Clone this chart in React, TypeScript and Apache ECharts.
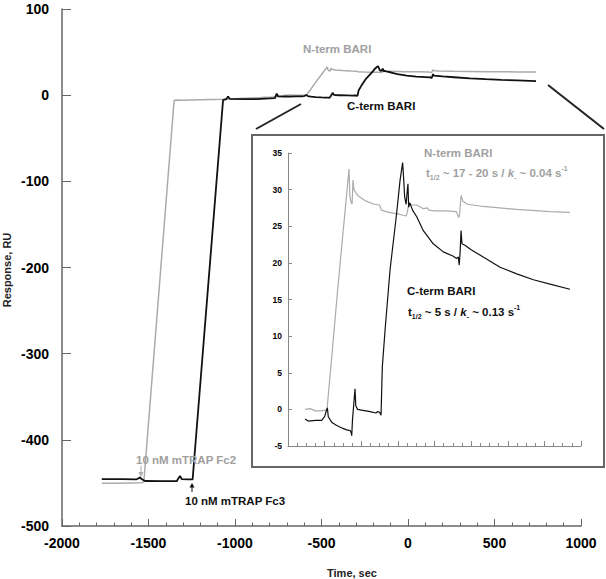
import React, { useEffect, useRef } from "react";
import * as echarts from "echarts";

// N-term BARI (gray trace): time (s) and response (RU)
const nTermTime = [
  -1770, -1700, -1600, -1540, -1527, -1352, -1340, -1300, -1200, -1069, -950, -850, -780,
  -707, -680, -650, -620, -595, -587, -560, -530, -500, -467, -462, -455, -450, -445, -440,
  -420, -380, -330, -300, -290, -250, -200, -170, -155, -148, -140, -130, -97, -60, -40, -30,
  0, 60, 120, 132, 137, 145, 155, 180, 266, 449, 631, 740,
];
const nTermResp = [
  -450.5, -450.3, -450, -449.8, -449, -6.2, -5.6, -5.8, -5.2, -4.6, -3.5, -2.8, -2.0,
  0.0, 0.1, -0.2, -0.2, -0.1, 0.0, 7.5, 16, 24, 32.8, 29.0, 28.3, 28.0, 31.3, 30.0,
  29.2, 28.5, 28.0, 27.9, 27.2, 26.9, 26.7, 26.5, 26.4, 27.0, 28.2, 27.9, 27.9, 27.4, 27.5, 27.2,
  27.1, 27.1, 27.0, 26.2, 26.6, 29.2, 28.4, 28.0, 27.7, 27.3, 27.0, 26.9,
];

// C-term BARI (black trace)
const cTermTime = [
  -1770, -1650, -1569, -1555, -1549, -1540, -1520, -1420, -1337, -1325, -1318, -1308, -1270, -1245,
  -1069, -1050, -1040, -1030, -950, -875, -800, -769, -759, -750, -720,
  -707, -690, -650, -616, -600, -592, -585, -580, -560, -534, -500, -480, -460, -455, -452, -448,
  -440, -434, -430, -420, -398, -352, -320, -310, -300, -292, -285, -270, -243, -207, -188, -174,
  -168, -163, -155, -150, -145, -141, -135, -120, -97, -61, -7, 48, 103, 120, 130, 135, 140, 145,
  150, 166, 200, 266, 358, 449, 540, 631, 740,
];
const cTermResp = [
  -445.5, -445.7, -445.8, -444.5, -443.5, -445.5, -447.8, -448, -448, -444, -442, -445.5, -445.8, -446,
  -5.8, -4.5, -1.5, -4.2, -4.5, -4.6, -3.8, -3.4, 1.8, -1.5, -1.6,
  -1.3, -1.6, -1.5, -1.5, -1.0, -0.3, 0.2, -1.0, -1.8, -2.2, -2.6, -2.8, -2.9, -3.2, -3.6, -1.5,
  1.0, 2.8, 0.5, 0.0, -0.1, -0.3, -0.5, -0.3, -0.4, -0.8, 5.8, 10.8, 19.0, 26.7, 31.3, 33.7,
  31.3, 29.0, 28.0, 29.5, 30.8, 27.6, 28.2, 27.2, 26.3, 24.4, 22.6, 21.5, 20.9, 20.6, 20.8, 19.7, 21.5, 24.4,
  22.6, 22.4, 21.8, 20.8, 19.4, 18.5, 17.7, 17.1, 16.4,
];

const insetStart = -710;

const FONT = "'Liberation Sans', Arial, Helvetica, sans-serif";
const GRAY = "#ababab";
const TEXT_GRAY = "#a0a0a0";
const BLACK = "#111";

function richFor(color: string) {
  return {
    n: { fontSize: 11.5, fontWeight: "bold", fontFamily: FONT, fill: color, lineHeight: 16 },
    k: { fontSize: 11.5, fontWeight: "bold", fontStyle: "italic", fontFamily: FONT, fill: color, lineHeight: 16 },
    sub: { fontSize: 7, fontWeight: "bold", fontFamily: FONT, fill: color, lineHeight: 8, verticalAlign: "bottom" },
    sup: { fontSize: 7, fontWeight: "bold", fontFamily: FONT, fill: color, lineHeight: 8, verticalAlign: "top" },
  };
}

function label(text: string, x: number, y: number, color: string, size = 11.5) {
  return {
    type: "text",
    x,
    y,
    z: 10,
    style: {
      text,
      fill: color,
      font: `bold ${size}px ${FONT}`,
      textAlign: "left",
      textVerticalAlign: "middle",
    },
  };
}

export default function App() {
  const ref = useRef<HTMLDivElement>(null);

  useEffect(() => {
    if (!ref.current) return;
    const chart = echarts.init(ref.current, undefined, { renderer: "svg" });

    const nData = nTermTime.map((t, i) => [t, nTermResp[i]]);
    const cData = cTermTime.map((t, i) => [t, cTermResp[i]]);
    const nInset = nData.filter((p) => p[0] >= insetStart);
    const cInset = cData.filter((p) => p[0] >= insetStart);

    const axisColor = "#666";
    const fmt = (v: number) => String(v);

    chart.setOption({
      animation: false,
      backgroundColor: "#fff",
      grid: [
        { left: 62, top: 9, width: 519, height: 517 },
        { left: 288, top: 153, width: 293, height: 293 },
      ],
      xAxis: [
        {
          type: "value",
          gridIndex: 0,
          min: -2000,
          max: 1000,
          interval: 500,
          axisLine: { show: true, onZero: false, lineStyle: { color: axisColor, width: 1.5 } },
          axisTick: { show: true, inside: true, length: 7, lineStyle: { color: axisColor, width: 1 } },
          minorTick: { show: true, splitNumber: 5, length: 3.5, lineStyle: { color: axisColor, width: 1 } },
          splitLine: { show: false },
          axisLabel: {
            formatter: fmt,
            fontSize: 14,
            fontWeight: "bold",
            fontFamily: FONT,
            color: "#000",
            margin: 10,
          },
        },
        {
          type: "value",
          gridIndex: 1,
          min: -800,
          max: 800,
          interval: 200,
          axisLine: { show: true, onZero: false, lineStyle: { color: "#888", width: 1 } },
          axisTick: { show: true, inside: true, length: 5, lineStyle: { color: "#888", width: 1 } },
          minorTick: { show: true, splitNumber: 4, length: 3, lineStyle: { color: "#888", width: 1 } },
          splitLine: { show: false },
          axisLabel: { show: false },
        },
      ],
      yAxis: [
        {
          type: "value",
          gridIndex: 0,
          min: -500,
          max: 100,
          interval: 100,
          axisLine: { show: true, onZero: false, lineStyle: { color: axisColor, width: 1.5 } },
          axisTick: { show: true, inside: true, length: 9, lineStyle: { color: axisColor, width: 1 } },
          splitLine: { show: false },
          axisLabel: {
            formatter: fmt,
            fontSize: 14,
            fontWeight: "bold",
            fontFamily: FONT,
            color: "#000",
            margin: 13,
          },
        },
        {
          type: "value",
          gridIndex: 1,
          min: -5,
          max: 35,
          interval: 5,
          axisLine: { show: true, onZero: false, lineStyle: { color: "#888", width: 1 } },
          axisTick: { show: true, inside: true, length: 4, lineStyle: { color: "#888", width: 1 } },
          splitLine: { show: false },
          axisLabel: {
            formatter: fmt,
            fontSize: 8.5,
            fontWeight: "bold",
            fontFamily: FONT,
            color: "#000",
            margin: 6,
          },
        },
      ],
      series: [
        {
          name: "N-term BARI",
          type: "line",
          xAxisIndex: 0,
          yAxisIndex: 0,
          data: nData,
          showSymbol: false,
          lineStyle: { color: GRAY, width: 1.5 },
          z: 2,
        },
        {
          name: "C-term BARI",
          type: "line",
          xAxisIndex: 0,
          yAxisIndex: 0,
          data: cData,
          showSymbol: false,
          lineStyle: { color: BLACK, width: 1.8 },
          z: 3,
        },
        {
          name: "N-term BARI inset",
          type: "line",
          xAxisIndex: 1,
          yAxisIndex: 1,
          data: nInset,
          showSymbol: false,
          lineStyle: { color: GRAY, width: 1.2 },
          z: 2,
        },
        {
          name: "C-term BARI inset",
          type: "line",
          xAxisIndex: 1,
          yAxisIndex: 1,
          data: cInset,
          showSymbol: false,
          lineStyle: { color: BLACK, width: 1.2 },
          z: 3,
        },
      ],
      graphic: [
        {
          type: "rect",
          shape: { x: 252, y: 135, width: 352, height: 332 },
          style: { fill: "none", stroke: "#666", lineWidth: 2 },
          z: 1,
        },
        {
          type: "line",
          shape: { x1: 256, y1: 129, x2: 301, y2: 104 },
          style: { stroke: "#222", lineWidth: 2 },
        },
        {
          type: "line",
          shape: { x1: 548, y1: 85, x2: 604, y2: 129 },
          style: { stroke: "#222", lineWidth: 2 },
        },
        label("N-term BARI", 303, 49, TEXT_GRAY),
        label("C-term BARI", 347, 106, BLACK),
        label("N-term BARI", 424, 153, TEXT_GRAY),
        label("C-term BARI", 407, 291, BLACK),
        label("10 nM mTRAP Fc2", 136, 460, TEXT_GRAY),
        label("10 nM mTRAP Fc3", 185, 501, BLACK),
        {
          type: "text",
          x: 426,
          y: 173,
          z: 10,
          style: {
            text: "{n|t}{sub|1/2}{n| ~ 17 - 20 s / }{k|k}{sub|-}{n| ~ 0.04 s}{sup|-1}",
            rich: richFor(TEXT_GRAY),
            textAlign: "left",
            textVerticalAlign: "middle",
          },
        },
        {
          type: "text",
          x: 408,
          y: 312,
          z: 10,
          style: {
            text: "{n|t}{sub|1/2}{n| ~ 5 s / }{k|k}{sub|-}{n| ~ 0.13 s}{sup|-1}",
            rich: richFor(BLACK),
            textAlign: "left",
            textVerticalAlign: "middle",
          },
        },
        {
          type: "line",
          shape: { x1: 141, y1: 466, x2: 141, y2: 474 },
          style: { stroke: GRAY, lineWidth: 1 },
        },
        {
          type: "polygon",
          shape: { points: [[138.5, 472], [143.5, 472], [141, 477]] },
          style: { fill: GRAY },
        },
        {
          type: "line",
          shape: { x1: 192, y1: 492, x2: 192, y2: 486 },
          style: { stroke: BLACK, lineWidth: 1 },
        },
        {
          type: "polygon",
          shape: { points: [[189.5, 487.5], [194.5, 487.5], [192, 483]] },
          style: { fill: BLACK },
        },
        {
          type: "text",
          x: 352,
          y: 573,
          style: {
            text: "Time, sec",
            fill: "#222",
            font: `bold 11px ${FONT}`,
            textAlign: "center",
            textVerticalAlign: "middle",
          },
        },
        {
          type: "text",
          x: 7,
          y: 270,
          rotation: Math.PI / 2,
          style: {
            text: "Response, RU",
            fill: "#222",
            font: `bold 11px ${FONT}`,
            textAlign: "center",
            textVerticalAlign: "middle",
          },
        },
      ],
    });

    return () => chart.dispose();
  }, []);

  return (
    <div
      ref={ref}
      style={{ position: "absolute", left: 0, top: 0, width: 606, height: 579, background: "#fff" }}
    />
  );
}
